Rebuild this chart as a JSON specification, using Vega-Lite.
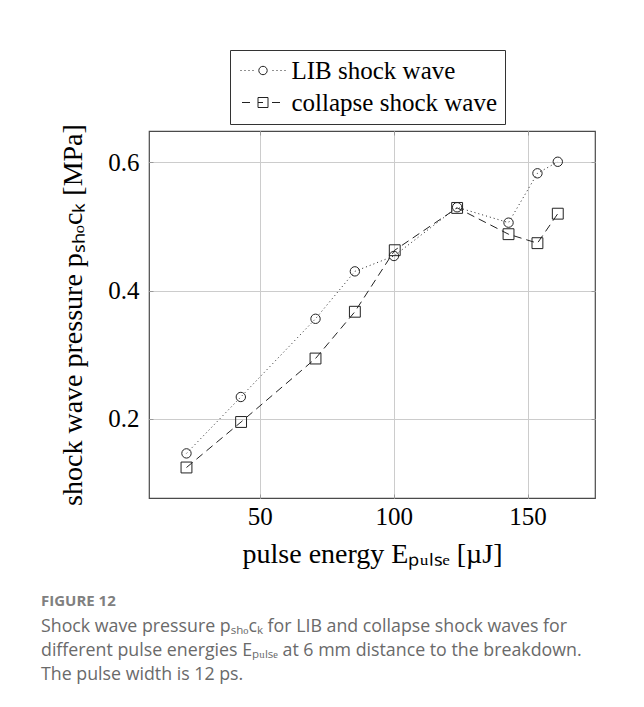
{
  "$schema": "https://vega.github.io/schema/vega-lite/v6.json",
  "width": 446,
  "height": 367,
  "autosize": {"type": "none"},
  "padding": {"left": 149, "top": 131, "right": 49, "bottom": 209},
  "background": "white",
  "data": {
    "values": [
      {"series": "LIB shock wave", "energy": 22.6, "pressure": 0.146},
      {"series": "LIB shock wave", "energy": 42.9, "pressure": 0.234},
      {"series": "LIB shock wave", "energy": 70.8, "pressure": 0.356},
      {"series": "LIB shock wave", "energy": 85.5, "pressure": 0.430},
      {"series": "LIB shock wave", "energy": 100.1, "pressure": 0.454},
      {"series": "LIB shock wave", "energy": 123.7, "pressure": 0.530},
      {"series": "LIB shock wave", "energy": 142.9, "pressure": 0.506},
      {"series": "LIB shock wave", "energy": 153.7, "pressure": 0.583},
      {"series": "LIB shock wave", "energy": 161.3, "pressure": 0.601},
      {"series": "collapse shock wave", "energy": 22.6, "pressure": 0.124},
      {"series": "collapse shock wave", "energy": 43.0, "pressure": 0.195},
      {"series": "collapse shock wave", "energy": 70.8, "pressure": 0.294},
      {"series": "collapse shock wave", "energy": 85.5, "pressure": 0.367},
      {"series": "collapse shock wave", "energy": 100.4, "pressure": 0.463},
      {"series": "collapse shock wave", "energy": 123.7, "pressure": 0.529},
      {"series": "collapse shock wave", "energy": 142.9, "pressure": 0.488},
      {"series": "collapse shock wave", "energy": 153.7, "pressure": 0.474},
      {"series": "collapse shock wave", "energy": 161.3, "pressure": 0.520}
    ]
  },
  "title": {
    "text": "FIGURE 12",
    "subtitle": [
      "Shock wave pressure pₛₕₒcₖ for LIB and collapse shock waves for",
      "different pulse energies Eₚᵤₗₛₑ at 6 mm distance to the breakdown.",
      "The pulse width is 12 ps."
    ],
    "orient": "bottom",
    "anchor": "start",
    "frame": "group",
    "dx": -108,
    "offset": 26,
    "font": "Open Sans",
    "fontSize": 15,
    "fontWeight": "bold",
    "color": "#808080",
    "subtitleFont": "Open Sans",
    "subtitleFontSize": 17.8,
    "subtitleColor": "#6a6a6a",
    "subtitleLineHeight": 24,
    "subtitlePadding": 9
  },
  "layer": [
    {
      "mark": {"type": "line", "color": "#222", "strokeWidth": 1},
      "encoding": {
        "x": {
          "field": "energy",
          "type": "quantitative",
          "scale": {"domain": [8.6, 175.2], "nice": false, "zero": false},
          "axis": {
            "values": [50, 100, 150],
            "title": "pulse energy Eₚᵤₗₛₑ [µJ]",
            "labelPadding": 10,
            "titlePadding": 11
          }
        },
        "y": {
          "field": "pressure",
          "type": "quantitative",
          "scale": {"domain": [0.0764, 0.649], "nice": false, "zero": false},
          "axis": {
            "values": [0.2, 0.4, 0.6],
            "format": ".1f",
            "title": "shock wave pressure pₛₕₒcₖ [MPa]",
            "labelPadding": 14,
            "titlePadding": 20
          }
        },
        "detail": {"field": "series"},
        "strokeDash": {
          "field": "series",
          "type": "nominal",
          "scale": {"domain": ["LIB shock wave", "collapse shock wave"], "range": [[1, 3], [8, 5]]},
          "legend": null
        }
      }
    },
    {
      "mark": {"type": "point", "filled": false, "color": "#222", "strokeWidth": 1, "opacity": 1},
      "encoding": {
        "x": {"field": "energy", "type": "quantitative", "scale": {"domain": [8.6, 175.2], "nice": false, "zero": false}, "axis": null},
        "y": {"field": "pressure", "type": "quantitative", "scale": {"domain": [0.0764, 0.649], "nice": false, "zero": false}, "axis": null},
        "shape": {
          "field": "series",
          "type": "nominal",
          "scale": {"domain": ["LIB shock wave", "collapse shock wave"], "range": ["circle", "square"]},
          "legend": null
        },
        "size": {
          "field": "series",
          "type": "nominal",
          "scale": {"domain": ["LIB shock wave", "collapse shock wave"], "range": [88, 118]},
          "legend": null
        }
      }
    },
    {
      "transform": [{"filter": "false"}],
      "mark": {"type": "point", "filled": false, "color": "#222", "strokeWidth": 1, "opacity": 1, "size": 400},
      "encoding": {
        "x": {
          "field": "energy",
          "type": "quantitative",
          "scale": {"domain": [8.6, 175.2], "nice": false, "zero": false},
          "axis": {"orient": "top", "values": [50, 100, 150], "labels": false, "title": null, "grid": false}
        },
        "y": {
          "field": "pressure",
          "type": "quantitative",
          "scale": {"domain": [0.0764, 0.649], "nice": false, "zero": false},
          "axis": {"orient": "right", "values": [0.2, 0.4, 0.6], "labels": false, "title": null, "grid": false}
        },
        "shape": {
          "field": "series",
          "type": "nominal",
          "scale": {
            "domain": ["LIB shock wave", "collapse shock wave"],
            "range": [
              "M-2.25,0h0.1M-1.85,0h0.1M-1.45,0h0.1M-1.05,0h0.1M-0.42,0a0.42,0.42 0 1,0 0.84,0a0.42,0.42 0 1,0 -0.84,0M0.95,0h0.1M1.35,0h0.1M1.75,0h0.1M2.15,0h0.1",
              "M-2.1,0h0.8M-0.5,-0.5h1v1h-1zM-0.5,0h0.5M0.9,0h0.8"
            ]
          },
          "legend": {
            "orient": "none",
            "legendX": 81,
            "legendY": -81,
            "title": null,
            "symbolSize": 400,
            "symbolOffset": 12.5,
            "labelOffset": 16,
            "labelFont": "Liberation Serif",
            "labelFontSize": 25,
            "labelColor": "black",
            "labelLimit": 0,
            "rowPadding": 6,
            "padding": 8,
            "strokeColor": "#333",
            "fillColor": "white",
            "symbolStrokeWidth": 1,
            "symbolStrokeColor": "#222"
          }
        }
      }
    }
  ],
  "resolve": {"scale": {"shape": "independent"}, "axis": {"x": "independent", "y": "independent"}},
  "config": {
    "view": {"stroke": "#4a4a4a", "strokeWidth": 1.2},
    "legend": {"labelFont": "Liberation Serif"},
    "axis": {
      "domain": false,
      "ticks": true,
      "tickSize": -4,
      "tickColor": "#9a9a9a",
      "tickWidth": 1,
      "grid": true,
      "gridColor": "#cccccc",
      "gridWidth": 1,
      "labelFont": "Liberation Serif",
      "labelFontSize": 25,
      "labelColor": "black",
      "titleFont": "Liberation Serif",
      "titleFontSize": 28,
      "titleFontWeight": "normal",
      "titleColor": "black"
    }
  }
}
